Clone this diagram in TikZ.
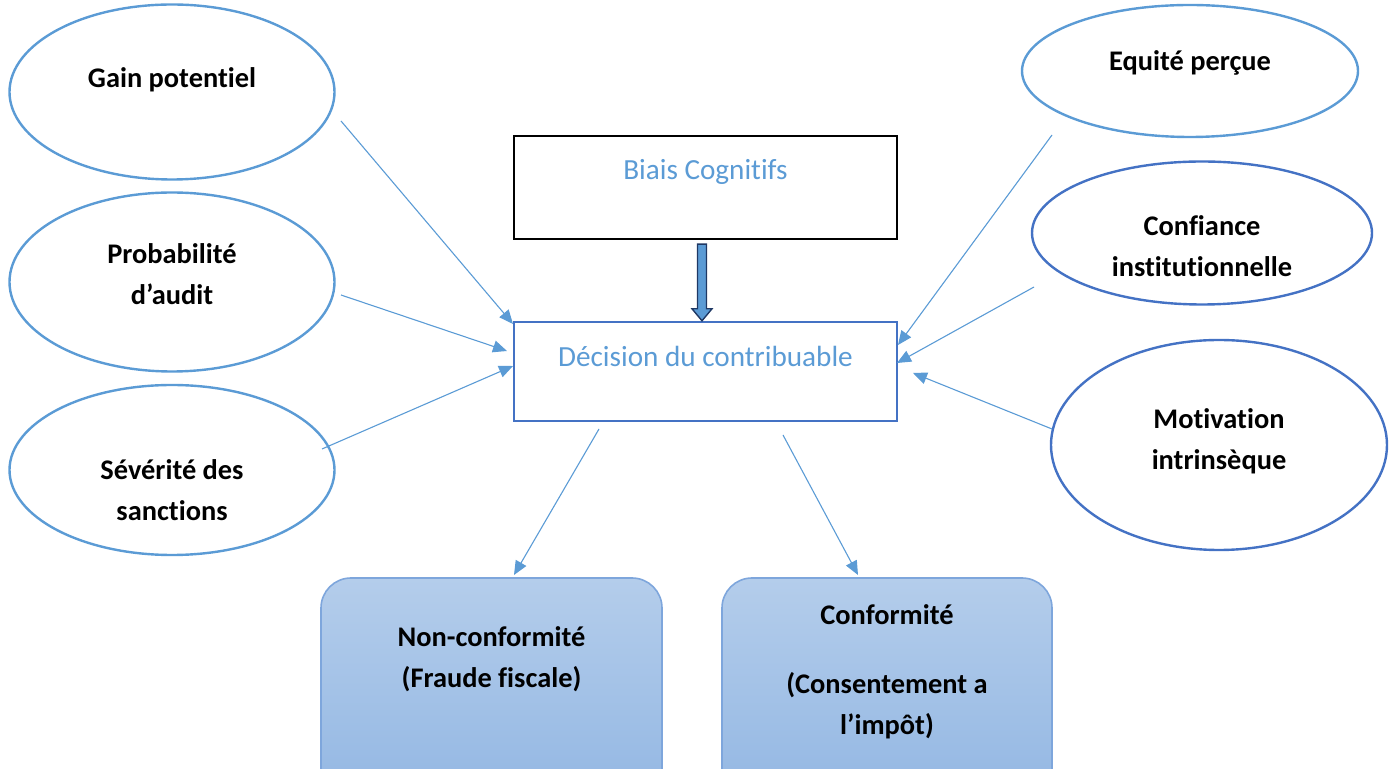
\documentclass[tikz,border=0pt]{standalone}
\usepackage{fontspec}
\setmainfont{Carlito}[Ligatures=NoCommon]
\usetikzlibrary{shapes.geometric,calc,arrows.meta}
\definecolor{ovalblue}{RGB}{91,155,213}
\definecolor{ovaldark}{RGB}{68,114,196}
\definecolor{linkblue}{RGB}{91,155,213}
\definecolor{navy}{RGB}{31,56,100}
\definecolor{boxtop}{RGB}{180,205,235}
\definecolor{boxbot}{RGB}{147,183,227}
\definecolor{boxedge}{RGB}{126,166,220}

\begin{document}
\begin{tikzpicture}[x=0.5pt,y=-0.5pt,
  every label/.style={font=\bfseries\fontsize{14.2}{20.5}\selectfont, align=center, inner sep=0pt},
  oval/.style={draw=ovalblue, ellipse, line width=1.2pt, inner sep=0pt},
  core/.style={draw, rectangle, line width=1.2pt, inner sep=0pt, minimum width=191.5pt},
  outcome/.style={draw=boxedge, rounded corners=15pt, line width=0.8pt, top color=boxtop, bottom color=boxbot, inner sep=0pt, minimum height=111pt},
  link/.style={draw=linkblue, line width=0.55pt, -{Triangle[length=7pt,width=6pt]}},
  blockarrow/.style={draw=navy, fill=linkblue, line width=0.7pt, line join=miter}]
\useasboundingbox (0,0) rectangle (1394,769);
\clip (0,0) rectangle (1394,769);

% Factors on the left
\node[oval, minimum width=162.5pt, minimum height=87.5pt, label={[yshift=6pt]center:Gain potentiel}] (gain) at (172,92) {};
\node[oval, minimum width=162.5pt, minimum height=89.5pt, label={[yshift=3.75pt]center:Probabilité\\d’audit}] (prob) at (172,282) {};
\node[oval, minimum width=162.5pt, minimum height=85pt, label={[yshift=-10pt]center:Sévérité des\\sanctions}] (sev) at (172,470) {};

% Factors on the right
\node[oval, minimum width=168pt, minimum height=66pt, label={[yshift=4pt]center:Equité perçue}] (equ) at (1190,71) {};
\node[oval, draw=ovaldark, minimum width=170pt, minimum height=71.5pt, label={[yshift=-6.75pt]center:Confiance\\institutionnelle}] (conf) at (1202,233) {};
\node[oval, draw=ovaldark, minimum width=168pt, minimum height=105pt, label={[yshift=1.75pt]center:Motivation\\intrinsèque}] (moti) at (1219,445) {};

% Central boxes
\node[core, draw=black, minimum height=51.5pt, label={[yshift=7.75pt, font=\fontsize{14.6}{18}\selectfont, text=ovalblue]center:Biais Cognitifs}] (biais) at (705.5,187.5) {};
\node[core, draw=ovaldark, minimum height=49.5pt, label={[yshift=7.75pt, font=\fontsize{14.6}{18}\selectfont, text=ovalblue]center:Décision du contribuable}] (dec) at (705.5,371.5) {};

% Outcomes
\node[outcome, minimum width=170.5pt, label={[yshift=15pt]center:Non-conformité\\(Fraude fiscale)}] (nonc) at (491.5,689) {};
\node[outcome, minimum width=165pt, label={[yshift=8.5pt]center:Conformité\\[14pt](Consentement a\\l’impôt)}] (conform) at (887,689) {};

% Block arrow from the biases
\draw[blockarrow] ($(biais.south)+(-8,4)$) -- ($(biais.south)+(1,4)$) -- ($(dec.north)+(1,-12)$)
  -- ($(dec.north)+(6.5,-12)$) -- ($(dec.north)+(-3.5,0)$) -- ($(dec.north)+(-13.5,-12)$)
  -- ($(dec.north)+(-8,-12)$) -- cycle;

% Influences
\draw[link] ($(gain)+(169,29)$) -- ($(dec)+(-192.5,-47.5)$);
\draw[link] ($(prob)+(169,13)$) -- ($(dec)+(-198.5,-20.5)$);
\draw[link] ($(sev)+(150,-21)$) -- ($(dec)+(-192.5,-5.5)$);
\draw[link] ($(equ)+(-138,64)$) -- ($(dec)+(192.5,-26.5)$);
\draw[link] ($(conf)+(-168,54)$) -- ($(dec)+(191.5,-8.5)$);
\draw[link] ($(moti)+(-167,-16)$) -- ($(dec)+(207.5,1.5)$);

% Decisions
\draw[link] ($(dec)+(-106.5,57.5)$) -- ($(nonc)+(22.5,-114)$);
\draw[link] ($(dec)+(77.5,63.5)$) -- ($(conform)+(-29,-114)$);
\end{tikzpicture}
\end{document}
